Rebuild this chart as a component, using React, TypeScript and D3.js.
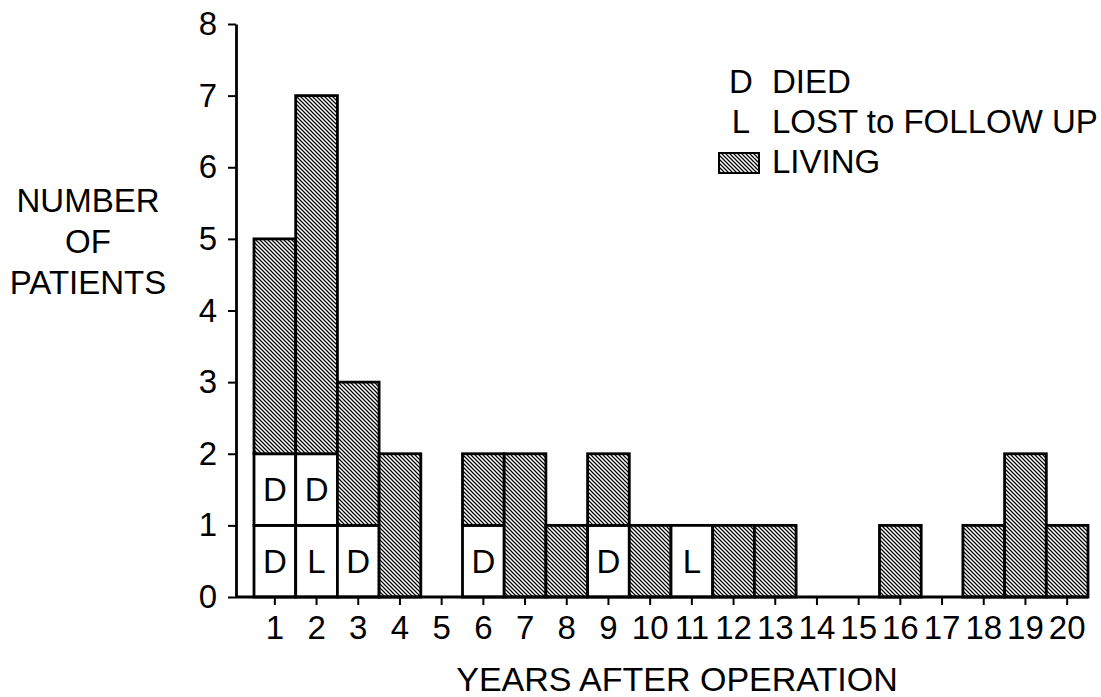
import { useEffect, useRef } from 'react';
import * as d3 from 'd3';

// years after operation (x categories)
const years = [1, 2, 3, 4, 5, 6, 7, 8, 9, 10, 11, 12, 13, 14, 15, 16, 17, 18, 19, 20];
// white cells stacked at the bottom of each bar: D = died, L = lost to follow up
const outcomeRow1 = ['D', 'L', 'D', '', '', 'D', '', '', 'D', '', 'L', '', '', '', '', '', '', '', '', ''];
const outcomeRow2 = ['D', 'D', '', '', '', '', '', '', '', '', '', '', '', '', '', '', '', '', '', ''];
// hatched part on top
const living = [3, 5, 2, 2, 0, 1, 2, 1, 1, 1, 0, 1, 1, 0, 0, 1, 0, 1, 2, 1];
const yTicks = [0, 1, 2, 3, 4, 5, 6, 7, 8];
const legendLetters = [
  { key: 'D', label: 'DIED' },
  { key: 'L', label: 'LOST to FOLLOW UP' },
  { key: 'hatch', label: 'LIVING' },
];

const FONT = "'Liberation Sans', Arial, sans-serif";

interface Segment {
  year: number;
  y0: number;
  y1: number;
  letter: string;
  hatched: boolean;
}

export default function App() {
  const svgRef = useRef<SVGSVGElement>(null);

  useEffect(() => {
    if (!svgRef.current) return;
    const svg = d3.select(svgRef.current);
    svg.selectAll('*').remove();

    const axisX = 236;

    // scales
    const x = d3
      .scaleBand<number>()
      .domain(years)
      .range([254, 1088])
      .padding(0);
    const y = d3.scaleLinear().domain([0, 8]).range([597, 24]);

    // stacked segments
    const segments: Segment[] = [];
    years.forEach((yr, i) => {
      let base = 0;
      [outcomeRow1[i], outcomeRow2[i]].forEach((letter) => {
        if (letter) {
          segments.push({ year: yr, y0: base, y1: base + 1, letter, hatched: false });
          base += 1;
        }
      });
      if (living[i] > 0) {
        segments.push({ year: yr, y0: base, y1: base + living[i], letter: '', hatched: true });
      }
    });

    // hatch pattern (lines running down to the right)
    const defs = svg.append('defs');
    const pattern = defs
      .append('pattern')
      .attr('id', 'hatch')
      .attr('patternUnits', 'userSpaceOnUse')
      .attr('width', 4)
      .attr('height', 4);
    pattern.append('rect').attr('width', 4).attr('height', 4).attr('fill', 'white');
    pattern
      .append('path')
      .attr('d', 'M-1,-1 L5,5 M-5,-1 L1,5 M3,-1 L9,5')
      .attr('stroke', 'black')
      .attr('stroke-width', 1.25);

    // bars
    svg
      .append('g')
      .selectAll('rect')
      .data(segments)
      .enter()
      .append('rect')
      .attr('x', (d) => x(d.year)!)
      .attr('y', (d) => y(d.y1))
      .attr('width', x.bandwidth())
      .attr('height', (d) => y(d.y0) - y(d.y1))
      .attr('fill', (d) => (d.hatched ? 'url(#hatch)' : 'white'))
      .attr('stroke', 'black')
      .attr('stroke-width', 2.8);

    svg
      .append('g')
      .selectAll('text')
      .data(segments.filter((d) => d.letter))
      .enter()
      .append('text')
      .attr('x', (d) => x(d.year)! + x.bandwidth() / 2)
      .attr('y', (d) => (y(d.y0) + y(d.y1)) / 2)
      .attr('dy', '0.36em')
      .attr('text-anchor', 'middle')
      .style('font-family', FONT)
      .style('font-size', '33px')
      .text((d) => d.letter);

    // y axis
    const yAxis = svg
      .append('g')
      .attr('transform', `translate(${axisX},0)`)
      .call(
        d3
          .axisLeft(y)
          .tickValues(yTicks)
          .tickSize(8)
          .tickSizeOuter(0)
          .tickPadding(11)
          .tickFormat(d3.format('d'))
      );
    yAxis.select('.domain').attr('stroke-width', 2.8);
    yAxis.selectAll('line').attr('stroke-width', 2);
    yAxis
      .selectAll('text')
      .style('font-family', FONT)
      .style('font-size', '33px')
      .attr('fill', 'black');

    // x axis
    const xAxis = svg
      .append('g')
      .attr('transform', `translate(0,${y(0)})`)
      .call(d3.axisBottom(x).tickSize(8).tickPadding(11));
    xAxis.select('.domain').remove();
    xAxis.selectAll('line').attr('stroke-width', 2);
    xAxis
      .selectAll('text')
      .style('font-family', FONT)
      .style('font-size', '33px')
      .attr('fill', 'black');
    xAxis
      .append('line')
      .attr('x1', axisX)
      .attr('x2', x.range()[1])
      .attr('stroke', 'black')
      .attr('stroke-width', 2.8);

    // axis titles
    svg
      .append('text')
      .attr('x', (x.range()[0] + x.range()[1]) / 2 + 6)
      .attr('y', 691)
      .attr('text-anchor', 'middle')
      .style('font-family', FONT)
      .style('font-size', '34px')
      .text('YEARS AFTER OPERATION');

    const yTitle = svg
      .append('text')
      .attr('text-anchor', 'middle')
      .style('font-family', FONT)
      .style('font-size', '33px');
    ['NUMBER', 'OF', 'PATIENTS'].forEach((line, i) => {
      yTitle
        .append('tspan')
        .attr('x', 88)
        .attr('y', 212 + i * 41)
        .text(line);
    });

    // legend
    const legend = svg.append('g');
    legendLetters.forEach((item, i) => {
      const baseY = 93 + i * 40;
      if (item.key === 'hatch') {
        legend
          .append('rect')
          .attr('x', 719)
          .attr('y', baseY - 20)
          .attr('width', 40)
          .attr('height', 20)
          .attr('fill', 'url(#hatch)')
          .attr('stroke', 'black')
          .attr('stroke-width', 2);
      } else {
        legend
          .append('text')
          .attr('x', 741)
          .attr('y', baseY)
          .attr('text-anchor', 'middle')
          .style('font-family', FONT)
          .style('font-size', '33px')
          .text(item.key);
      }
      legend
        .append('text')
        .attr('x', 772)
        .attr('y', baseY)
        .style('font-family', FONT)
        .style('font-size', '33px')
        .text(item.label);
    });
  }, []);

  return (
    <svg
      ref={svgRef}
      width={1101}
      height={697}
      style={{ position: 'absolute', left: 0, top: 0, background: 'white' }}
    />
  );
}
